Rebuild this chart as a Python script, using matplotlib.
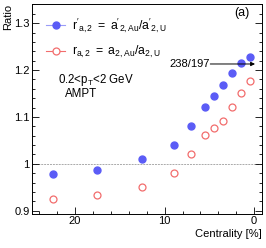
import numpy as np
import matplotlib
matplotlib.use("Agg")
import matplotlib.pyplot as plt
from matplotlib.lines import Line2D
from matplotlib.ticker import MultipleLocator

plt.rcParams['font.family'] = ['Liberation Sans', 'DejaVu Sans']
plt.rcParams['mathtext.fontset'] = 'custom'
plt.rcParams['mathtext.rm'] = 'Liberation Sans'
plt.rcParams['mathtext.it'] = 'Liberation Sans'

# ---- DATA ----
centrality = [22.5, 17.5, 12.5, 9, 7, 5.5, 4.5, 3.5, 2.5, 1.5, 0.5]
r_prime = [0.979, 0.986, 1.010, 1.040, 1.081, 1.121, 1.144, 1.168, 1.194, 1.216, 1.228]
r_plain = [0.926, 0.934, 0.951, 0.980, 1.020, 1.061, 1.076, 1.091, 1.121, 1.151, 1.176]
ratio_mass = 1.213   # arrow level for 238/197

blue = '#5b5cf6'
red = '#f26d6d'

fig = plt.figure(figsize=(2.66, 2.48), dpi=100)
ax = fig.add_axes([0.119, 0.136, 0.865, 0.848])

ax.plot(centrality, r_prime, 'o', color=blue, ms=5.0, mec=blue, zorder=3)
ax.plot(centrality, r_plain, 'o', mfc='none', mec=red, ms=5.0, mew=0.9, zorder=3)

ax.axhline(1.0, color='#aaaaaa', ls=(0, (2, 1)), lw=0.7, zorder=1)

ax.annotate('', xy=(-0.1, ratio_mass), xytext=(4.9, ratio_mass),
            arrowprops=dict(arrowstyle='-|>', color='black', lw=0.7,
                            mutation_scale=6, shrinkA=0, shrinkB=0))
ax.text(4.95, ratio_mass, '238/197', ha='right', va='center', fontsize=8)

ax.set_xlim(24.85, -0.85)
ax.set_ylim(0.8925, 1.341)
ax.xaxis.set_major_locator(MultipleLocator(10))
ax.xaxis.set_minor_locator(MultipleLocator(2))
ax.yaxis.set_major_locator(MultipleLocator(0.1))
ax.yaxis.set_minor_locator(MultipleLocator(0.02))
ax.set_yticks([0.9, 1.0, 1.1, 1.2, 1.3])
ax.set_yticklabels(['0.9', '1', '1.1', '1.2', '1.3'])
ax.tick_params(which='both', direction='in', right=True, top=False, labelsize=8,
               width=0.6, pad=1.5)
ax.tick_params(which='major', length=5)
ax.tick_params(which='minor', length=2.5)
for s in ax.spines.values():
    s.set_linewidth(0.7)

ax.set_xlabel('Centrality [%]', fontsize=8, loc='right', labelpad=2)
ax.set_ylabel('Ratio', fontsize=8, loc='top', labelpad=1)

handles = [Line2D([], [], color='#9a9cf8', lw=0.8, marker='o', ms=5.0,
                  mfc=blue, mec=blue),
           Line2D([], [], color=red, lw=0.8, marker='o', ms=5.0,
                  mfc='white', mec=red, mew=0.9)]
labels = [r"$\mathrm{r'_{a,2}\ =\ a'_{2,Au}/a'_{2,U}}$",
          r"$\mathrm{r_{a,2}\ =\ a_{2,Au}/a_{2,U}}$"]
ax.legend(handles, labels, loc='upper left', bbox_to_anchor=(0.03, 0.975),
          frameon=False, fontsize=8.8, handlelength=1.6, handletextpad=0.5,
          labelspacing=0.75, borderaxespad=0.2)

ax.text(0.115, 0.64, r'0.2<p$_\mathrm{T}$<2 GeV', transform=ax.transAxes,
        fontsize=8.3, va='center')
ax.text(0.145, 0.57, 'AMPT', transform=ax.transAxes, fontsize=8.3, va='center')
ax.text(0.945, 0.955, '(a)', transform=ax.transAxes, fontsize=9,
        ha='right', va='center')

fig.savefig('out.png', dpi=100)
